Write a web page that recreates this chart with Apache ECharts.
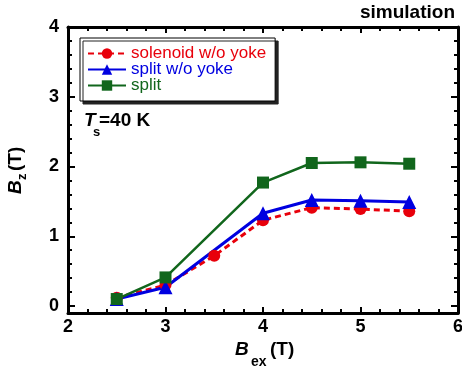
<!DOCTYPE html>
<html>
<head>
<meta charset="utf-8">
<script src="https://cdn.jsdelivr.net/npm/echarts@6/dist/echarts.min.js"></script>
<style>
  html, body { margin: 0; padding: 0; background: #fff; }
  #chart { width: 462px; height: 369px; }
</style>
</head>
<body>
<div id="chart"></div>
<script>
// data
const solenoidX = [2.5, 3, 3.5, 4, 4.5, 5, 5.5];
const solenoidY = [0.12, 0.3, 0.72, 1.23, 1.41, 1.39, 1.36];
const splitNoYokeX = [2.5, 3, 4, 4.5, 5, 5.5];
const splitNoYokeY = [0.1, 0.27, 1.33, 1.52, 1.51, 1.49];
const splitX = [2.5, 3, 4, 4.5, 5, 5.5];
const splitY = [0.1, 0.41, 1.77, 2.05, 2.06, 2.04];

const yMajorTicks = [0, 1, 2, 3, 4];
const yMinorTicks = [0.2, 0.4, 0.6, 0.8, 1.2, 1.4, 1.6, 1.8, 2.2, 2.4, 2.6, 2.8, 3.2, 3.4, 3.6, 3.8];

const RED = "#e8000b";
const BLUE = "#0000e0";
const GREEN = "#11661c";
const FONT = "Liberation Sans, Arial, sans-serif";

const pairs = (xs, ys) => xs.map((x, i) => [x, ys[i]]);

const chart = echarts.init(document.getElementById("chart"));

const axisLine = { show: true, onZero: false, lineStyle: { color: "#000", width: 3 } };
const tickLabel = { color: "#000", fontFamily: FONT, fontWeight: "bold", fontSize: 18 };

const xCommon = {
  type: "value",
  min: 2,
  max: 6,
  interval: 1,
  axisLine: axisLine,
  axisTick: { show: true, inside: true, length: 6, lineStyle: { color: "#000", width: 2 } },
  minorTick: { show: true, splitNumber: 5, length: 4, lineStyle: { color: "#000", width: 2 } },
  splitLine: { show: false },
};

const yCommon = {
  type: "value",
  min: -0.1,
  max: 4,
  splitLine: { show: false },
};

const option = {
  animation: false,
  grid: { left: 68, right: 4, top: 27, bottom: 56, containLabel: false, outerBoundsMode: "none" },
  xAxis: [
    Object.assign({}, xCommon, {
      position: "bottom",
      axisLabel: Object.assign({ margin: 5 }, tickLabel),
    }),
    Object.assign({}, xCommon, {
      position: "top",
      axisLabel: { show: false },
    }),
  ],
  yAxis: [
    Object.assign({}, yCommon, {
      position: "left",
      axisLine: axisLine,
      axisTick: { show: true, inside: true, length: 7, customValues: yMajorTicks, lineStyle: { color: "#000", width: 2 } },
      axisLabel: Object.assign({ margin: 9, customValues: yMajorTicks }, tickLabel),
    }),
    Object.assign({}, yCommon, {
      position: "left",
      axisLine: { show: false, onZero: false },
      axisTick: { show: true, inside: true, length: 4, customValues: yMinorTicks, lineStyle: { color: "#000", width: 2 } },
      axisLabel: { show: false },
    }),
    Object.assign({}, yCommon, {
      position: "right",
      axisLine: axisLine,
      axisTick: { show: true, inside: true, length: 7, customValues: yMajorTicks, lineStyle: { color: "#000", width: 2 } },
      axisLabel: { show: false },
    }),
    Object.assign({}, yCommon, {
      position: "right",
      axisLine: { show: false, onZero: false },
      axisTick: { show: true, inside: true, length: 4, customValues: yMinorTicks, lineStyle: { color: "#000", width: 2 } },
      axisLabel: { show: false },
    }),
  ],
  legend: {
    orient: "vertical",
    left: 80,
    top: 38,
    padding: [7, 9, 7, 7],
    itemWidth: 38,
    itemHeight: 13,
    itemGap: -1,
    backgroundColor: "#fff",
    borderColor: "#000",
    borderWidth: 1,
    shadowColor: "#222",
    shadowOffsetX: 3,
    shadowOffsetY: 3,
    shadowBlur: 0,
    textStyle: { fontFamily: FONT, fontSize: 17, lineHeight: 15 },
    data: [
      { name: "solenoid w/o yoke", textStyle: { color: RED } },
      { name: "split w/o yoke", textStyle: { color: BLUE } },
      { name: "split", textStyle: { color: GREEN } },
    ],
  },
  series: [
    {
      name: "solenoid w/o yoke",
      type: "line",
      data: pairs(solenoidX, solenoidY),
      symbol: "circle",
      symbolSize: 12,
      itemStyle: { color: RED },
      lineStyle: { color: RED, width: 3, type: [6, 4] },
    },
    {
      name: "split w/o yoke",
      type: "line",
      data: pairs(splitNoYokeX, splitNoYokeY),
      symbol: "triangle",
      symbolSize: 14,
      itemStyle: { color: BLUE },
      lineStyle: { color: BLUE, width: 3 },
    },
    {
      name: "split",
      type: "line",
      data: pairs(splitX, splitY),
      symbol: "rect",
      symbolSize: 12,
      itemStyle: { color: GREEN },
      lineStyle: { color: GREEN, width: 2.5 },
    },
  ],
  graphic: [
    {
      type: "text",
      right: 7,
      top: 3,
      style: { text: "simulation", fill: "#000", font: "bold 19px " + FONT },
    },
    // T_s = 40 K
    { type: "text", x: 84, y: 121, style: { text: "T", fill: "#000", font: "italic bold 19px " + FONT, verticalAlign: "middle" } },
    { type: "text", x: 93, y: 132, style: { text: "s", fill: "#000", font: "bold 13px " + FONT, verticalAlign: "middle" } },
    { type: "text", x: 99, y: 121, style: { text: "=40 K", fill: "#000", font: "bold 19px " + FONT, verticalAlign: "middle" } },
    // x axis title
    { type: "text", x: 235, y: 350, style: { text: "B", fill: "#000", font: "italic bold 19px " + FONT, verticalAlign: "middle" } },
    { type: "text", x: 251, y: 362, style: { text: "ex", fill: "#000", font: "bold 14px " + FONT, verticalAlign: "middle" } },
    { type: "text", x: 270, y: 350, style: { text: "(T)", fill: "#000", font: "bold 19px " + FONT, verticalAlign: "middle" } },
    // y axis title (rotated)
    {
      type: "group",
      x: 16,
      y: 194,
      rotation: Math.PI / 2,
      children: [
        { type: "text", x: 0, y: 0, style: { text: "B", fill: "#000", font: "italic bold 19px " + FONT, verticalAlign: "middle" } },
        { type: "text", x: 14, y: 6, style: { text: "z", fill: "#000", font: "bold 13px " + FONT, verticalAlign: "middle" } },
        { type: "text", x: 23, y: 0, style: { text: "(T)", fill: "#000", font: "bold 19px " + FONT, verticalAlign: "middle" } },
      ],
    },
  ],
};

chart.setOption(option);
</script>
</body>
</html>
